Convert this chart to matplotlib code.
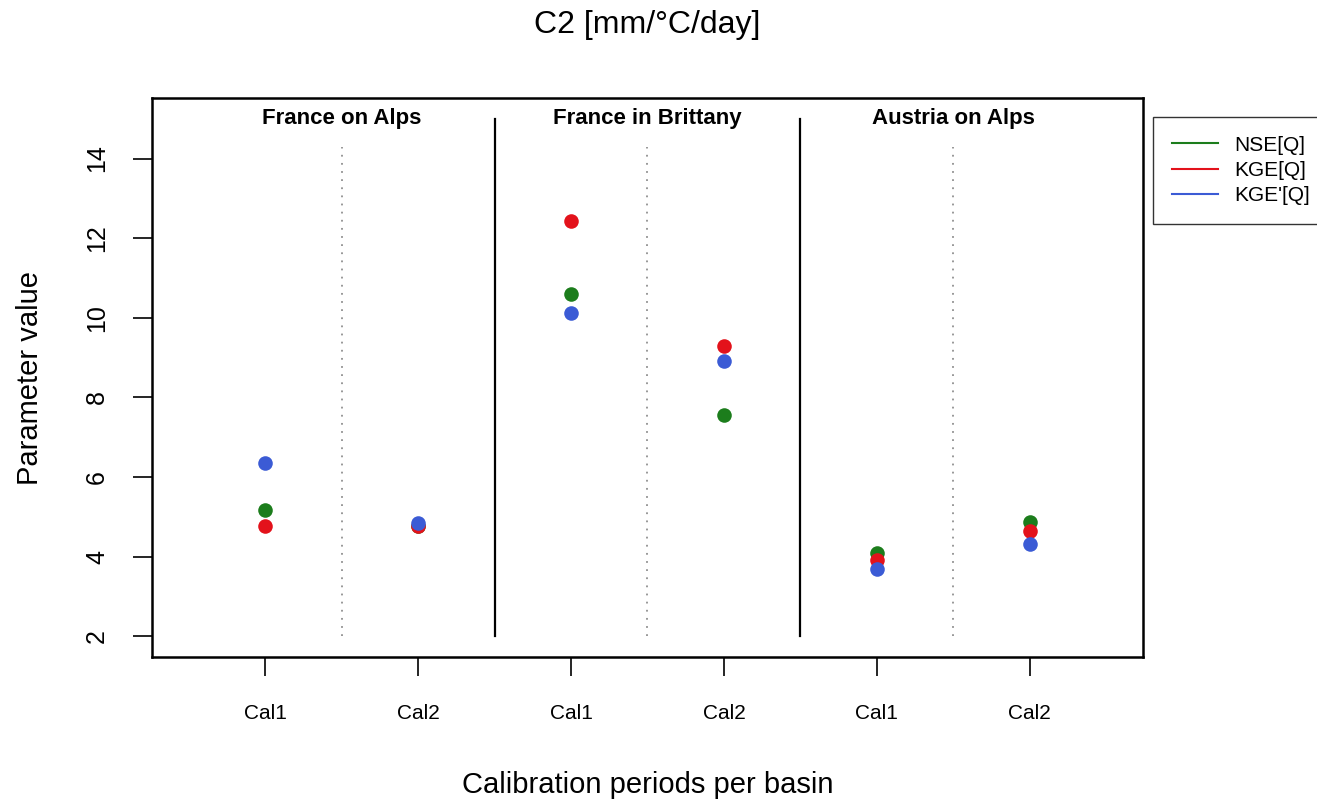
import matplotlib
matplotlib.use("Agg")
import matplotlib.pyplot as plt
import matplotlib.lines as mlines

plt.rcParams['font.family'] = ['Liberation Sans', 'DejaVu Sans']

# data
basins = ["France on Alps", "France in Brittany", "Austria on Alps"]
periods = ["Cal1", "Cal2", "Cal1", "Cal2", "Cal1", "Cal2"]
series = ["NSE[Q]", "KGE[Q]", "KGE'[Q]"]
nse = [5.18, 4.78, 10.60, 7.56, 4.09, 4.87]
kge = [4.77, 4.77, 12.42, 9.30, 3.91, 4.64]
kge_p = [6.34, 4.84, 10.13, 8.92, 3.69, 4.31]
colors = ['#1c7d1c', '#e3121b', '#3b5bd5']  # green, red, blue


def plot_points(ax):
    xs = list(range(1, len(periods) + 1))
    for vals, c in zip([nse, kge, kge_p], colors):
        ax.scatter(xs, vals, s=110, color=c, zorder=5, linewidths=0)


def plot_separators(ax):
    # solid lines between basins, dotted between periods
    for i in range(len(basins)):
        mid = 2 * i + 1.5
        ax.plot([mid, mid], [2, 14.3], linestyle=(0, (1, 3.5)), color='#909090',
                linewidth=1.3)
        ax.text(mid, 15.0, basins[i], ha='center', va='center',
                fontsize=16, fontweight='bold')
        if i > 0:
            ax.plot([2 * i + 0.5] * 2, [2, 15], color='black', linewidth=1.6)


fig = plt.figure(figsize=(13.17, 8.05), dpi=100)
ax = fig.add_axes([152 / 1317, 1 - 657 / 805, 991 / 1317, 559 / 805])

plot_points(ax)
plot_separators(ax)

ax.set_xlim(0.26, 6.74)
ax.set_ylim(1.48, 15.52)
ax.set_xticks(range(1, len(periods) + 1))
ax.set_xticklabels(periods)
ax.set_yticks([2, 4, 6, 8, 10, 12, 14])
ax.set_yticklabels(['2', '4', '6', '8', '10', '12', '14'], rotation=90, va='center')
ax.tick_params(axis='x', length=14, width=1.2, pad=20, labelsize=15)
ax.tick_params(axis='y', length=14, width=1.2, pad=17, labelsize=18)
for sp in ax.spines.values():
    sp.set_linewidth(1.8)

ax.set_xlabel('Calibration periods per basin', fontsize=21, va='center')
ax.xaxis.set_label_coords(0.5, -0.229)
ax.set_ylabel('Parameter value', fontsize=21, va='center')
ax.yaxis.set_label_coords(-0.123, 0.5)
ax.text(0.5, 1.131, 'C2 [mm/°C/day]', transform=ax.transAxes, ha='center',
        va='center', fontsize=23)

handles = [mlines.Line2D([], [], color=c, linewidth=1.5) for c in colors]
leg = fig.legend(handles, series, loc='upper left',
                 bbox_to_anchor=(1153 / 1317, 1 - 117 / 805), fontsize=15,
                 frameon=True, fancybox=False, borderaxespad=0,
                 handlelength=2.2, labelspacing=0.3, borderpad=0.9)
leg.get_frame().set_edgecolor('black')
leg.get_frame().set_linewidth(1.0)

fig.savefig('out.png', dpi=100)
